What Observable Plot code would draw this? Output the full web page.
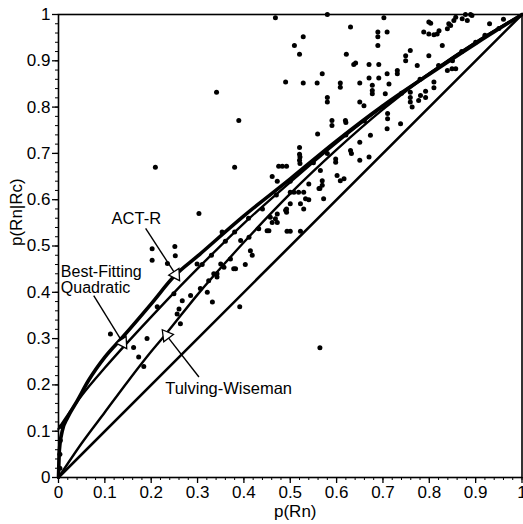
<!DOCTYPE html>
<html>
<head>
<meta charset="utf-8">
<script src="https://cdn.jsdelivr.net/npm/d3@7"></script>
<script src="https://cdn.jsdelivr.net/npm/@observablehq/plot@0.6"></script>
<style>
  html, body { margin: 0; padding: 0; background: #fff; overflow: hidden; }
  #chart svg { display: block; }
</style>
</head>
<body>
<div id="chart"></div>
<script>
// Tick labels
const majorTicks = [0, 0.1, 0.2, 0.3, 0.4, 0.5, 0.6, 0.7, 0.8, 0.9, 1];
const tickLabels = ["0", "0.1", "0.2", "0.3", "0.4", "0.5", "0.6", "0.7", "0.8", "0.9", "1"];
const minorTicks = d3.range(51).map(i => i / 50);

// Observed data points: p(Rn) and p(Rn|Rc)
const pRn = [
  0.341,0.389,0.209,0.380,0.303,0.202,0.251,0.564,0.112,0.191,0.173,0.184,0.162,0.213,0.263,0.332,0.391,0.403,0.382,0.235,
  0.202,0.249,0.267,0.256,0.306,0.335,0.350,0.252,0.260,0.324,0.342,0.299,0.321,0.285,0.003,0.003,0.004,0.006,
  0.475,0.483,0.492,0.521,0.521,0.461,0.472,0.500,0.508,0.518,0.529,0.540,0.533,0.500,0.492,0.492,0.472,
  0.468,0.461,0.472,0.454,0.493,0.500,0.522,0.432,0.411,0.353,0.393,0.414,0.418,0.371,0.378,0.357,0.342,
  0.637,0.670,0.691,0.731,0.731,0.528,0.558,0.608,0.608,0.569,0.670,0.691,0.709,0.650,
  0.677,0.677,0.677,0.713,0.774,0.580,0.580,0.650,0.705,0.759,0.759,0.777,
  0.559,0.590,0.590,0.619,0.659,0.710,0.710,0.709,0.738,0.673,0.650,0.630,0.598,0.598,0.650,0.670,0.565,0.601,0.616,0.569,0.569,0.562,
  0.857,0.878,0.889,0.803,0.842,0.839,0.788,0.799,0.810,0.817,0.821,0.828,0.759,0.749,0.749,0.799,0.849,0.810,0.810,0.781,0.792,0.763,
  0.468,0.580,0.702,0.630,0.528,0.689,0.689,0.709,0.509,0.520,0.689,0.621,0.641,0.490,
  0.620,0.520,0.520,0.520,0.632,0.608,0.564,0.572,0.540,0.522,0.529,0.490,0.457,0.450,
  0.839,0.857,0.792,0.759,0.846,0.853,0.871,0.882,0.892,0.799,
  0.870,0.900,0.920,0.950,0.930,0.960,0.850,0.820,0.780,0.740,0.700,0.660,0.620,0.580,0.550,0.500,0.470,0.440,0.410,0.380,0.360,0.330,0.310
];
const pRnRc = [
  0.832,0.771,0.670,0.670,0.570,0.494,0.499,0.280,0.310,0.300,0.260,0.240,0.281,0.369,0.332,0.379,0.369,0.460,0.451,0.462,
  0.469,0.397,0.382,0.353,0.408,0.440,0.461,0.479,0.364,0.425,0.440,0.461,0.400,0.393,0.020,0.050,0.080,0.110,
  0.672,0.672,0.672,0.692,0.678,0.650,0.640,0.616,0.616,0.616,0.616,0.634,0.602,0.591,0.580,0.573,0.569,
  0.559,0.551,0.551,0.533,0.532,0.532,0.532,0.537,0.519,0.530,0.512,0.490,0.480,0.472,0.451,0.454,0.433,
  0.892,0.892,0.892,0.879,0.872,0.852,0.852,0.852,0.843,0.872,0.863,0.863,0.872,0.852,
  0.847,0.836,0.829,0.850,0.890,0.821,0.811,0.811,0.829,0.821,0.811,0.814,
  0.742,0.771,0.760,0.771,0.803,0.786,0.775,0.753,0.764,0.739,0.724,0.706,0.688,0.681,0.685,0.692,0.663,0.652,0.645,0.641,0.631,0.624,
  0.994,1.000,1.000,0.981,0.980,0.969,0.962,0.958,0.956,0.958,0.965,0.933,0.922,0.911,0.900,0.911,0.883,0.854,0.842,0.825,0.821,0.800,
  0.993,1.000,0.993,0.973,0.952,0.962,0.952,0.962,0.933,0.914,0.933,0.914,0.895,0.854,
  0.767,0.713,0.698,0.685,0.700,0.641,0.624,0.602,0.600,0.591,0.580,0.577,0.562,0.533,
  0.879,0.883,0.834,0.832,0.976,0.987,0.991,0.987,0.998,0.984,
  0.920,0.940,0.955,0.970,0.980,0.990,0.900,0.890,0.860,0.830,0.800,0.770,0.740,0.700,0.680,0.640,0.610,0.580,0.560,0.530,0.510,0.480,0.460
];
const points = pRn.map((x, i) => ({x, y: pRnRc[i]}));

// Model curves
const diagX = [0, 1];
const diagY = [0, 1];
const actrX = [0, 0.002, 0.008, 0.02, 0.04, 0.065, 0.1, 0.14, 0.2, 0.25, 0.3, 0.4, 0.5, 0.6, 0.7, 0.8, 0.9, 1];
const actrY = [0, 0.06, 0.10, 0.13, 0.165, 0.21, 0.26, 0.305, 0.375, 0.435, 0.478, 0.565, 0.645, 0.727, 0.803, 0.871, 0.937, 1];
const quadX = [0, 0.02, 0.05, 0.1, 0.15, 0.2, 0.25, 0.3, 0.4, 0.5, 0.6, 0.7, 0.8, 0.9, 1];
const quadY = [0.105, 0.135, 0.177, 0.237, 0.293, 0.347, 0.40, 0.451, 0.549, 0.638, 0.723, 0.801, 0.873, 0.94, 1];
const twX = [0, 0.05, 0.1, 0.15, 0.2, 0.231, 0.3, 0.4, 0.5, 0.6, 0.7, 0.8, 0.9, 1];
const twY = [0, 0.074, 0.141, 0.208, 0.272, 0.309, 0.395, 0.508, 0.613, 0.708, 0.795, 0.872, 0.94, 1];

const toPts = (xs, ys) => xs.map((x, i) => ({x, y: ys[i]}));

// Annotations
const annotations = [
  {label: "ACT-R", tx: 0.168, ty: 0.559, anchor: "middle", x1: 0.188, y1: 0.538, x2: 0.253, y2: 0.438, rot: 147},
  {label: "Best-Fitting\nQuadratic", tx: 0.005, ty: 0.427, anchor: "start", x1: 0.076, y1: 0.393, x2: 0.139, y2: 0.291, rot: 147},
  {label: "Tulving-Wiseman", tx: 0.367, ty: 0.192, anchor: "middle", x1: 0.303, y1: 0.217, x2: 0.233, y2: 0.307, rot: -37}
];

const font = "'Liberation Sans', Arial, Helvetica, sans-serif";

const chart = Plot.plot({
  width: 523,
  height: 524,
  marginLeft: 58,
  marginRight: 1.5,
  marginTop: 14,
  marginBottom: 47,
  x: {domain: [0, 1]},
  y: {domain: [0, 1]},
  style: {fontFamily: font, fontSize: "17px", color: "#000", background: "#fff", overflow: "hidden"},
  marks: [
    Plot.axisX(minorTicks, {tickSize: 3, tickFormat: () => "", label: null, strokeWidth: 1}),
    Plot.axisY(minorTicks, {tickSize: 3, tickFormat: () => "", label: null, strokeWidth: 1}),
    Plot.axisX(majorTicks, {tickSize: 6, tickPadding: 2, tickFormat: (d, i) => tickLabels[i], label: null, fontSize: 17, strokeWidth: 1.3}),
    Plot.axisY(majorTicks, {tickSize: 6, tickPadding: 2, tickFormat: (d, i) => tickLabels[i], label: null, fontSize: 17, strokeWidth: 1.3}),
    Plot.frame({stroke: "#000", strokeWidth: 1.6}),
    Plot.line(toPts(diagX, diagY), {x: "x", y: "y", stroke: "#000", strokeWidth: 2.6}),
    Plot.line(toPts(twX, twY), {x: "x", y: "y", stroke: "#000", strokeWidth: 2.4, curve: "monotone-x"}),
    Plot.line(toPts(quadX, quadY), {x: "x", y: "y", stroke: "#000", strokeWidth: 2.4, curve: "monotone-x"}),
    Plot.line(toPts(actrX, actrY), {x: "x", y: "y", stroke: "#000", strokeWidth: 3.6, curve: "monotone-x"}),
    Plot.dot(points, {x: "x", y: "y", r: 2.5, fill: "#000", stroke: "none"}),
    Plot.link(annotations, {x1: "x1", y1: "y1", x2: "x2", y2: "y2", stroke: "#000", strokeWidth: 1.4}),
    Plot.dot(annotations, {x: "x2", y: "y2", symbol: "triangle", r: 4.5, fill: "#fff", stroke: "#000", strokeWidth: 1.3, rotate: "rot"}),
    Plot.text(annotations.filter(d => d.anchor === "middle"), {x: "tx", y: "ty", text: "label", textAnchor: "middle", fontSize: 16.5, fill: "#000"}),
    Plot.text(annotations.filter(d => d.anchor === "start"), {x: "tx", y: "ty", text: "label", textAnchor: "start", fontSize: 16, lineHeight: 1.0, fill: "#000"}),
    Plot.text(["p(Rn)"], {frameAnchor: "bottom", lineAnchor: "top", dy: 27, dx: 5, text: d => d, fontSize: 17, fill: "#000"}),
    Plot.text(["p(Rn|Rc)"], {frameAnchor: "left", dx: -42, dy: 0, rotate: -90, text: d => d, fontSize: 17, fill: "#000"})
  ]
});

document.getElementById("chart").appendChild(chart);
</script>
</body>
</html>
